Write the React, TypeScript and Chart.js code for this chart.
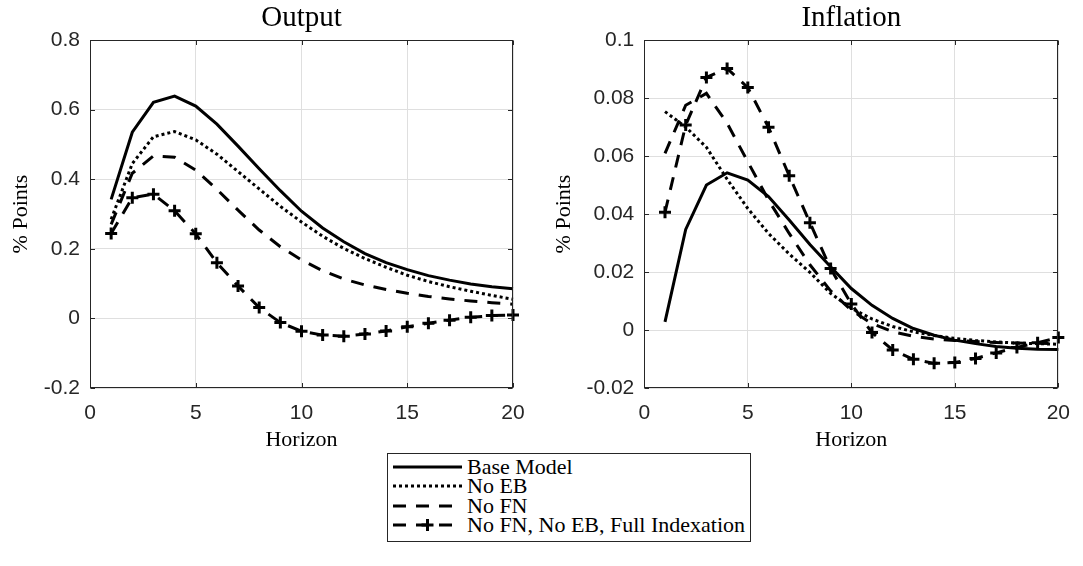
import React, { useEffect, useRef } from 'react';
import { Chart, registerables } from 'chart.js';

Chart.register(...registerables);

// Impulse-response horizons
const horizon = [1, 2, 3, 4, 5, 6, 7, 8, 9, 10, 11, 12, 13, 14, 15, 16, 17, 18, 19, 20];

// Output responses (% points)
const outputBase = [0.342, 0.535, 0.621, 0.639, 0.61, 0.558, 0.495, 0.43, 0.367, 0.308, 0.26, 0.22, 0.186, 0.16, 0.14, 0.123, 0.11, 0.099, 0.091, 0.085];
const outputNoEB = [0.285, 0.445, 0.522, 0.537, 0.513, 0.472, 0.422, 0.372, 0.322, 0.277, 0.236, 0.201, 0.172, 0.147, 0.124, 0.106, 0.091, 0.078, 0.066, 0.055];
const outputNoFN = [0.27, 0.417, 0.467, 0.463, 0.426, 0.371, 0.311, 0.254, 0.206, 0.168, 0.137, 0.113, 0.096, 0.083, 0.072, 0.063, 0.056, 0.05, 0.045, 0.041];
const outputFullIdx = [0.244, 0.347, 0.357, 0.309, 0.243, 0.16, 0.093, 0.031, -0.012, -0.037, -0.048, -0.051, -0.045, -0.036, -0.024, -0.014, -0.005, 0.003, 0.008, 0.01];

// Inflation responses (% points)
const inflationBase = [0.0028, 0.0347, 0.05, 0.0542, 0.0517, 0.046, 0.0379, 0.0295, 0.0218, 0.0143, 0.0085, 0.004, 0.0005, -0.0018, -0.0035, -0.0047, -0.0057, -0.0063, -0.0066, -0.0067];
const inflationNoEB = [0.0753, 0.07, 0.063, 0.052, 0.0419, 0.0333, 0.0262, 0.0199, 0.0126, 0.0075, 0.0038, 0.0012, -0.0006, -0.0019, -0.0029, -0.0036, -0.0041, -0.0045, -0.0047, -0.0049];
const inflationNoFN = [0.0609, 0.0775, 0.0816, 0.0713, 0.058, 0.0448, 0.0333, 0.0225, 0.0135, 0.0068, 0.0022, -0.0006, -0.0022, -0.0031, -0.0036, -0.004, -0.0043, -0.0045, -0.0046, -0.0047];
const inflationFullIdx = [0.0406, 0.0707, 0.0871, 0.0902, 0.0836, 0.0699, 0.0532, 0.037, 0.0212, 0.009, -0.0009, -0.0069, -0.0101, -0.0115, -0.0112, -0.0098, -0.0079, -0.006, -0.0044, -0.0026];

// Axis ticks
const xTicks = [0, 5, 10, 15, 20];
const outputTicks = [-0.2, 0, 0.2, 0.4, 0.6, 0.8];
const inflationTicks = [-0.02, 0, 0.02, 0.04, 0.06, 0.08, 0.1];

const seriesNames = ['Base Model', 'No EB', 'No FN', 'No FN, No EB, Full Indexation'];
const seriesDash: number[][] = [[], [3, 3], [13, 10], [13, 10]];
const seriesMarker = [false, false, false, true];

const LINE_WIDTH = 3;
const AXIS_COLOR = '#262626';
const GRID_COLOR = '#dfdfdf';
const SERIF = '"Liberation Serif", "Times New Roman", serif';
const SANS = '"Liberation Sans", Arial, Helvetica, sans-serif';

const fmt = (v: number) => String(Number(v.toFixed(4)));

type PanelProps = {
  title: string;
  series: number[][];
  yTicks: number[];
  left: number;
  width: number;
  height: number;
  yAxisWidth: number;
  rightPad: number;
  yTitleOffset: number;
};

function Panel({ title, series, yTicks, left, width, height, yAxisWidth, rightPad, yTitleOffset }: PanelProps) {
  const ref = useRef<HTMLCanvasElement | null>(null);

  useEffect(() => {
    const canvas = ref.current;
    if (!canvas) return;

    const framePlugin = {
      id: 'frame',
      afterDraw(chart: any) {
        const { ctx, chartArea: a, scales } = chart;
        ctx.save();
        // panel title
        ctx.fillStyle = '#000';
        ctx.font = `29px ${SERIF}`;
        ctx.textAlign = 'center';
        ctx.textBaseline = 'alphabetic';
        ctx.fillText(title, (a.left + a.right) / 2, 26);
        // axes box
        ctx.strokeStyle = AXIS_COLOR;
        ctx.lineWidth = 1;
        const l = Math.round(a.left) + 0.5;
        const r = Math.round(a.right) - 0.5;
        const t = Math.round(a.top) + 0.5;
        const b = Math.round(a.bottom) - 0.5;
        ctx.strokeRect(l, t, r - l, b - t);
        // inward tick marks
        const tl = 4.5;
        ctx.beginPath();
        for (const v of xTicks) {
          const x = Math.round(scales.x.getPixelForValue(v)) + 0.5;
          ctx.moveTo(x, b); ctx.lineTo(x, b - tl);
          ctx.moveTo(x, t); ctx.lineTo(x, t + tl);
        }
        for (const v of yTicks) {
          const y = Math.round(scales.y.getPixelForValue(v)) + 0.5;
          ctx.moveTo(l, y); ctx.lineTo(l + tl, y);
          ctx.moveTo(r, y); ctx.lineTo(r - tl, y);
        }
        ctx.stroke();
        ctx.restore();
      },
    };

    const chart = new Chart(canvas, {
      type: 'line',
      data: {
        labels: horizon,
        datasets: series.map((vals, i) => ({
          label: seriesNames[i],
          data: vals.map((v, j) => ({ x: horizon[j], y: v })),
          borderColor: '#000',
          backgroundColor: '#000',
          borderWidth: LINE_WIDTH,
          borderDash: seriesDash[i],
          borderCapStyle: 'butt' as const,
          pointStyle: 'cross' as const,
          pointRadius: seriesMarker[i] ? 6 : 0,
          pointBorderWidth: 3,
          pointBorderColor: '#000',
          pointHoverRadius: seriesMarker[i] ? 6 : 0,
          tension: 0,
          fill: false,
          clip: false as any,
        })),
      },
      options: {
        animation: false,
        responsive: false,
        events: [],
        layout: { padding: { left: 0, right: rightPad, top: 40, bottom: 0 } },
        plugins: { legend: { display: false }, tooltip: { enabled: false }, title: { display: false } },
        scales: {
          x: {
            type: 'linear',
            min: 0,
            max: 20,
            afterBuildTicks: (scale: any) => { scale.ticks = xTicks.map((v) => ({ value: v })); },
            afterFit: (scale: any) => { scale.height = height - 388; },
            ticks: { color: AXIS_COLOR, font: { family: SANS, size: 21 }, padding: 13, maxRotation: 0, callback: (v: any) => fmt(Number(v)) },
            grid: { color: GRID_COLOR, lineWidth: 1, drawTicks: false },
            border: { display: false },
            title: { display: true, text: 'Horizon', color: '#000', font: { family: SERIF, size: 22 }, padding: { top: 0, bottom: 6.8 } },
          },
          y: {
            type: 'linear',
            min: yTicks[0],
            max: yTicks[yTicks.length - 1],
            afterBuildTicks: (scale: any) => { scale.ticks = yTicks.map((v) => ({ value: v })); },
            afterFit: (scale: any) => { scale.width = yAxisWidth; },
            ticks: { color: AXIS_COLOR, font: { family: SANS, size: 21 }, padding: 10, callback: (v: any) => fmt(Number(v)) },
            grid: { color: GRID_COLOR, lineWidth: 1, drawTicks: false },
            border: { display: false },
            title: { display: true, text: '% Points', color: '#000', font: { family: SERIF, size: 22 }, padding: { top: yTitleOffset, bottom: 0 } },
          },
        },
      },
      plugins: [framePlugin],
    } as any);

    return () => chart.destroy();
  }, []);

  return (
    <canvas
      ref={ref}
      width={width}
      height={height}
      style={{ position: 'absolute', left, top: 0, width, height, display: 'block' }}
    />
  );
}

function LegendSample({ index }: { index: number }) {
  const dash = seriesDash[index];
  return (
    <svg width={70} height={20} style={{ position: 'absolute', left: 5, top: 0 }}>
      <line
        x1={0}
        y1={10}
        x2={69}
        y2={10}
        stroke="#000"
        strokeWidth={LINE_WIDTH}
        strokeDasharray={dash.length ? dash.join(' ') : undefined}
      />
      {seriesMarker[index] && (
        <g stroke="#000" strokeWidth={3}>
          <line x1={34.5 - 6} y1={10} x2={34.5 + 6} y2={10} />
          <line x1={34.5} y1={4} x2={34.5} y2={16} />
        </g>
      )}
    </svg>
  );
}

export default function App() {
  const H = 460;
  return (
    <div style={{ position: 'absolute', left: 0, top: 0, width: 1083, height: 566, background: '#fff' }}>
      <Panel
        title="Output"
        series={[outputBase, outputNoEB, outputNoFN, outputFullIdx]}
        yTicks={outputTicks}
        left={0}
        width={540}
        height={H}
        yAxisWidth={90}
        rightPad={27}
        yTitleOffset={7.8}
      />
      <Panel
        title="Inflation"
        series={[inflationBase, inflationNoEB, inflationNoFN, inflationFullIdx]}
        yTicks={inflationTicks}
        left={540}
        width={543}
        height={H}
        yAxisWidth={104.3}
        rightPad={18}
        yTitleOffset={10.8}
      />
      <div
        style={{
          position: 'absolute',
          left: 387,
          top: 453,
          width: 364,
          height: 89,
          boxSizing: 'border-box',
          border: '1px solid #262626',
          background: '#fff',
        }}
      >
        {seriesNames.map((name, i) => (
          <div key={name} style={{ position: 'absolute', left: 0, top: 2.7 + i * 19.55, height: 20, width: 360 }}>
            <LegendSample index={i} />
            <span
              style={{
                position: 'absolute',
                left: 79,
                top: 0,
                lineHeight: '20px',
                fontSize: 22,
                fontFamily: SERIF,
                color: '#000',
                whiteSpace: 'nowrap',
              }}
            >
              {name}
            </span>
          </div>
        ))}
      </div>
    </div>
  );
}
